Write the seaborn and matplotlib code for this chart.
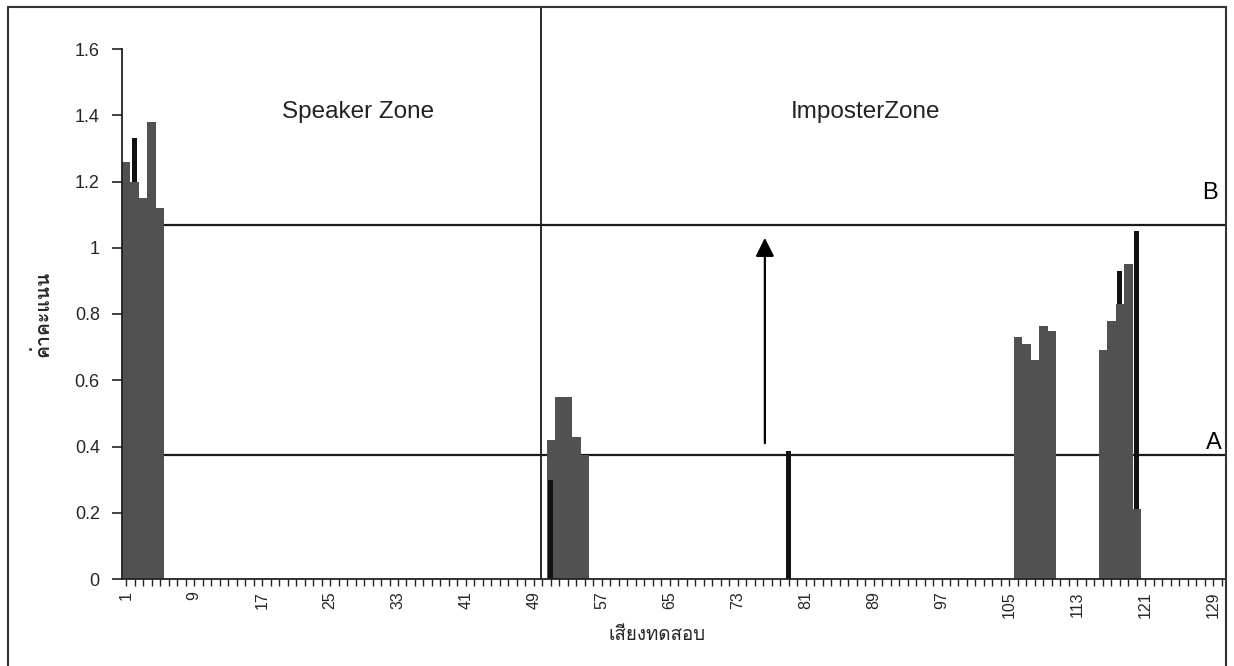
import numpy as np
import pandas as pd
import matplotlib
matplotlib.use("Agg")
import matplotlib.pyplot as plt
import matplotlib.font_manager as fm
from matplotlib.ft2font import FT2Font
from matplotlib.lines import Line2D
from matplotlib.ticker import FixedLocator, FuncFormatter
import seaborn as sns

# ---------------- data ----------------
categories = list(range(1, 131))                     # test utterances 1..130
tick_labels = list(range(1, 130, 8))                 # 1, 9, ..., 129

gray_cats = [1, 2, 3, 4, 5,
             51, 52, 53, 54, 55,
             106, 107, 108, 109, 110,
             116, 117, 118, 119, 120]
gray_vals = [1.26, 1.20, 1.15, 1.38, 1.12,
             0.42, 0.55, 0.55, 0.43, 0.375,
             0.73, 0.71, 0.66, 0.765, 0.75,
             0.69, 0.78, 0.83, 0.95, 0.21]

black_back_cats = [2, 118, 120]
black_back_vals = [1.33, 0.93, 1.05]
black_front_cats = [51, 79]
black_front_vals = [0.30, 0.385]

threshold_A = 0.375
threshold_B = 1.07
zone_split = 49.8
zone_labels = ["Speaker Zone", "ImposterZone"]
y_ticks = [0, 0.2, 0.4, 0.6, 0.8, 1.0, 1.2, 1.4, 1.6]
x_title = "เสียงทดสอบ"
y_title = "ค่าคะแนน"


def full_series(cats, vals):
    s = pd.Series(vals, index=cats).reindex(categories, fill_value=0.0)
    return s.values


df = pd.DataFrame({
    "cat": categories,
    "gray": full_series(gray_cats, gray_vals),
    "black_back": full_series(black_back_cats, black_back_vals),
    "black_front": full_series(black_front_cats, black_front_vals),
})

# ---------------- fonts ----------------
def find_thai_font():
    seen = set()
    for fe in fm.fontManager.ttflist:
        if fe.fname in seen:
            continue
        seen.add(fe.fname)
        try:
            cm = FT2Font(fe.fname).get_charmap()
        except Exception:
            continue
        if 0x0E04 in cm and 0x0E19 in cm and 0x0E48 in cm:
            return fe.name
    return None


sns.set_theme(style="white")
plt.rcParams["font.family"] = ["Liberation Sans", "DejaVu Sans"]
thai = find_thai_font()
thai_family = [thai, "Liberation Sans", "DejaVu Sans"] if thai else ["DejaVu Sans"]

# ---------------- figure ----------------
W, H = 1234, 666
fig = plt.figure(figsize=(W / 100, H / 100), dpi=100)
fig.patch.set_facecolor("white")
ax = fig.add_axes([122 / W, (H - 579) / H, (1226 - 122) / W, 530 / H])
ax.set_facecolor("white")

# threshold lines (behind bars)
ax.axhline(threshold_A, color="#1a1a1a", lw=1.6, zorder=1)
ax.axhline(threshold_B, color="#1a1a1a", lw=1.6, zorder=1)

sns.barplot(data=df, x="cat", y="black_back", native_scale=True, width=0.6,
            color="#111111", saturation=1, linewidth=0, errorbar=None,
            zorder=1.5, ax=ax)
sns.barplot(data=df, x="cat", y="gray", native_scale=True, width=1.0,
            color="#515151", saturation=1, linewidth=0, errorbar=None,
            zorder=2, ax=ax)
sns.barplot(data=df, x="cat", y="black_front", native_scale=True, width=0.6,
            color="#111111", saturation=1, linewidth=0, errorbar=None,
            zorder=2.5, ax=ax)

ax.set_xlim(0.5, 130.5)
ax.set_ylim(0, 1.6)

# zone divider, extending up to the outer frame
top_frac = (579 - 7) / 530
ax.axvline(zone_split, ymin=0, ymax=top_frac, color="#1a1a1a", lw=1.3,
           clip_on=False, zorder=3)

# arrow
ax.annotate("", xy=(76.2, 1.03), xytext=(76.2, 0.41),
            arrowprops=dict(arrowstyle="-|>", mutation_scale=28, color="black",
                            lw=1.6, shrinkA=0, shrinkB=0), zorder=4)

# texts
ax.text(28.3, 1.41, zone_labels[0], ha="center", va="center", fontsize=17.5,
        color="#222222")
ax.text(88.0, 1.41, zone_labels[1], ha="center", va="center", fontsize=17.5,
        color="#222222")
ax.text(129.1, 0.41, "A", ha="center", va="center", fontsize=17, color="black")
ax.text(128.6, 1.165, "B", ha="center", va="center", fontsize=17, color="black")

# axes styling
for side in ["top", "right"]:
    ax.spines[side].set_visible(False)
for side in ["left", "bottom"]:
    ax.spines[side].set_color("#222222")
    ax.spines[side].set_linewidth(1.3)

ax.yaxis.set_major_locator(FixedLocator(y_ticks))
ax.yaxis.set_major_formatter(FuncFormatter(lambda v, p: f"{v:g}"))
ax.tick_params(axis="y", which="major", direction="out", length=7, width=1.2,
               color="#222222", labelsize=13, pad=9, left=True)

ax.xaxis.set_major_locator(FixedLocator(tick_labels))
ax.xaxis.set_minor_locator(FixedLocator(categories))
ax.xaxis.set_major_formatter(FuncFormatter(lambda v, p: f"{int(round(v))}"))
ax.tick_params(axis="x", which="both", direction="out", length=5, width=1.0,
               color="#222222", bottom=True)
ax.tick_params(axis="x", which="major", labelsize=11.5, labelrotation=90, pad=4)

ax.set_xlabel(x_title, fontsize=13.5, family=thai_family, labelpad=8)
ax.set_ylabel(y_title, fontsize=14, family=thai_family, fontweight="bold")
ax.xaxis.set_label_coords(0.485, -0.088)
ax.yaxis.set_label_coords(-0.063, 0.5)

# outer frame (open at the bottom)
frame_kw = dict(color="#333333", lw=1.5)
x0, x1, y0 = 8 / W, 1226 / W, 1 - 7 / H
fig.add_artist(Line2D([x0, x1], [y0, y0], transform=fig.transFigure, **frame_kw))
fig.add_artist(Line2D([x0, x0], [y0, 0], transform=fig.transFigure, **frame_kw))
fig.add_artist(Line2D([x1, x1], [y0, 0], transform=fig.transFigure, **frame_kw))

fig.savefig("out.png", dpi=100, facecolor="white")
